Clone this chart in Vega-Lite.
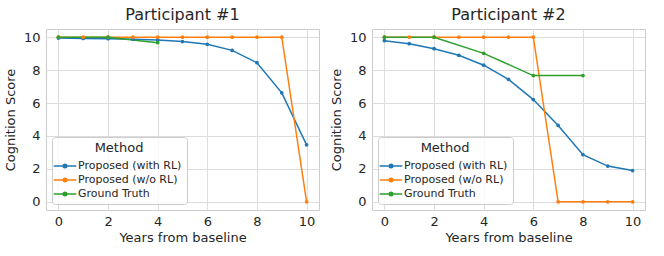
{
  "$schema": "https://vega.github.io/schema/vega-lite/v6.json",
  "background": "white",
  "padding": {"left": 3, "top": 6, "right": 5, "bottom": 5},
  "config": {
    "font": "DejaVu Sans",
    "view": {"stroke": "#cccccc", "strokeWidth": 1},
    "axis": {
      "grid": true, "gridColor": "#dddddd", "gridWidth": 1,
      "domain": false, "ticks": false,
      "labelFont": "DejaVu Sans", "labelFontSize": 13, "labelColor": "#262626",
      "titleFont": "DejaVu Sans", "titleFontSize": 13, "titleColor": "#262626", "titleFontWeight": "normal"
    },
    "title": {"font": "DejaVu Sans", "fontSize": 16, "fontWeight": "normal", "color": "#262626", "offset": 6},
    "legend": {
      "titleFont": "DejaVu Sans", "titleFontSize": 13, "titleFontWeight": "normal", "titleColor": "#262626", "titleAnchor": "middle",
      "labelFont": "DejaVu Sans", "labelFontSize": 11, "labelColor": "#262626", "labelOffset": 5,
      "strokeColor": "#cccccc", "fillColor": "rgba(255,255,255,0.8)", "cornerRadius": 3, "padding": 5, "titlePadding": 3,
      "symbolType": "M-1.6,0L1.6,0M-0.25,0A0.25,0.25 0 1,0 0.25,0A0.25,0.25 0 1,0 -0.25,0",
      "symbolSize": 200, "symbolStrokeWidth": 1.5, "rowPadding": 1
    }
  },
  "data": {"values": [
    {"p": 1, "method": "Proposed (with RL)", "year": 0, "score": 9.95},
    {"p": 1, "method": "Proposed (with RL)", "year": 1, "score": 9.93},
    {"p": 1, "method": "Proposed (with RL)", "year": 2, "score": 9.91},
    {"p": 1, "method": "Proposed (with RL)", "year": 3, "score": 9.88},
    {"p": 1, "method": "Proposed (with RL)", "year": 4, "score": 9.83},
    {"p": 1, "method": "Proposed (with RL)", "year": 5, "score": 9.74},
    {"p": 1, "method": "Proposed (with RL)", "year": 6, "score": 9.57},
    {"p": 1, "method": "Proposed (with RL)", "year": 7, "score": 9.2},
    {"p": 1, "method": "Proposed (with RL)", "year": 8, "score": 8.45},
    {"p": 1, "method": "Proposed (with RL)", "year": 9, "score": 6.62},
    {"p": 1, "method": "Proposed (with RL)", "year": 10, "score": 3.46},
    {"p": 1, "method": "Proposed (w/o RL)", "year": 0, "score": 10},
    {"p": 1, "method": "Proposed (w/o RL)", "year": 1, "score": 10},
    {"p": 1, "method": "Proposed (w/o RL)", "year": 2, "score": 10},
    {"p": 1, "method": "Proposed (w/o RL)", "year": 3, "score": 10},
    {"p": 1, "method": "Proposed (w/o RL)", "year": 4, "score": 10},
    {"p": 1, "method": "Proposed (w/o RL)", "year": 5, "score": 10},
    {"p": 1, "method": "Proposed (w/o RL)", "year": 6, "score": 10},
    {"p": 1, "method": "Proposed (w/o RL)", "year": 7, "score": 10},
    {"p": 1, "method": "Proposed (w/o RL)", "year": 8, "score": 10},
    {"p": 1, "method": "Proposed (w/o RL)", "year": 9, "score": 10},
    {"p": 1, "method": "Proposed (w/o RL)", "year": 10, "score": 0},
    {"p": 1, "method": "Ground Truth", "year": 0, "score": 10},
    {"p": 1, "method": "Ground Truth", "year": 2, "score": 10},
    {"p": 1, "method": "Ground Truth", "year": 4, "score": 9.67},
    {"p": 2, "method": "Proposed (with RL)", "year": 0, "score": 9.79},
    {"p": 2, "method": "Proposed (with RL)", "year": 1, "score": 9.61},
    {"p": 2, "method": "Proposed (with RL)", "year": 2, "score": 9.3},
    {"p": 2, "method": "Proposed (with RL)", "year": 3, "score": 8.9},
    {"p": 2, "method": "Proposed (with RL)", "year": 4, "score": 8.3},
    {"p": 2, "method": "Proposed (with RL)", "year": 5, "score": 7.44},
    {"p": 2, "method": "Proposed (with RL)", "year": 6, "score": 6.21},
    {"p": 2, "method": "Proposed (with RL)", "year": 7, "score": 4.64},
    {"p": 2, "method": "Proposed (with RL)", "year": 8, "score": 2.86},
    {"p": 2, "method": "Proposed (with RL)", "year": 9, "score": 2.17},
    {"p": 2, "method": "Proposed (with RL)", "year": 10, "score": 1.9},
    {"p": 2, "method": "Proposed (w/o RL)", "year": 0, "score": 10},
    {"p": 2, "method": "Proposed (w/o RL)", "year": 1, "score": 10},
    {"p": 2, "method": "Proposed (w/o RL)", "year": 2, "score": 10},
    {"p": 2, "method": "Proposed (w/o RL)", "year": 3, "score": 10},
    {"p": 2, "method": "Proposed (w/o RL)", "year": 4, "score": 10},
    {"p": 2, "method": "Proposed (w/o RL)", "year": 5, "score": 10},
    {"p": 2, "method": "Proposed (w/o RL)", "year": 6, "score": 10},
    {"p": 2, "method": "Proposed (w/o RL)", "year": 7, "score": 0},
    {"p": 2, "method": "Proposed (w/o RL)", "year": 8, "score": 0},
    {"p": 2, "method": "Proposed (w/o RL)", "year": 9, "score": 0},
    {"p": 2, "method": "Proposed (w/o RL)", "year": 10, "score": 0},
    {"p": 2, "method": "Ground Truth", "year": 0, "score": 10},
    {"p": 2, "method": "Ground Truth", "year": 2, "score": 10},
    {"p": 2, "method": "Ground Truth", "year": 4, "score": 9.02},
    {"p": 2, "method": "Ground Truth", "year": 6, "score": 7.67},
    {"p": 2, "method": "Ground Truth", "year": 8, "score": 7.67}
  ]},
  "resolve": {"legend": {"color": "independent"}},
  "spacing": 9,
  "hconcat": [
    {
      "title": "Participant #1",
      "width": 273, "height": 181,
      "transform": [{"filter": "datum.p === 1"}],
      "mark": {"type": "line", "strokeWidth": 1.5, "point": {"filled": true, "size": 14}},
      "encoding": {
        "x": {"field": "year", "type": "quantitative", "title": "Years from baseline",
              "scale": {"domain": [-0.5, 10.5], "nice": false, "zero": false},
              "axis": {"values": [0, 2, 4, 6, 8, 10], "labelPadding": 5, "titlePadding": 3}},
        "y": {"field": "score", "type": "quantitative", "title": "Cognition Score",
              "scale": {"domain": [-0.5, 10.5], "nice": false, "zero": false},
              "axis": {"values": [0, 2, 4, 6, 8, 10], "labelPadding": 6, "titlePadding": 6}},
        "color": {"field": "method", "type": "nominal", "title": "Method",
                  "scale": {"domain": ["Proposed (with RL)", "Proposed (w/o RL)", "Ground Truth"], "range": ["#1f77b4", "#ff7f0e", "#2ca02c"]},
                  "legend": {"orient": "bottom-left", "offset": 6}},
        "order": {"field": "year", "type": "quantitative"}
      }
    },
    {
      "title": "Participant #2",
      "width": 273, "height": 181,
      "transform": [{"filter": "datum.p === 2"}],
      "mark": {"type": "line", "strokeWidth": 1.5, "point": {"filled": true, "size": 14}},
      "encoding": {
        "x": {"field": "year", "type": "quantitative", "title": "Years from baseline",
              "scale": {"domain": [-0.5, 10.5], "nice": false, "zero": false},
              "axis": {"values": [0, 2, 4, 6, 8, 10], "labelPadding": 5, "titlePadding": 3}},
        "y": {"field": "score", "type": "quantitative", "title": "Cognition Score",
              "scale": {"domain": [-0.5, 10.5], "nice": false, "zero": false},
              "axis": {"values": [0, 2, 4, 6, 8, 10], "labelPadding": 6, "titlePadding": 6}},
        "color": {"field": "method", "type": "nominal", "title": "Method",
                  "scale": {"domain": ["Proposed (with RL)", "Proposed (w/o RL)", "Ground Truth"], "range": ["#1f77b4", "#ff7f0e", "#2ca02c"]},
                  "legend": {"orient": "bottom-left", "offset": 6}},
        "order": {"field": "year", "type": "quantitative"}
      }
    }
  ]
}
